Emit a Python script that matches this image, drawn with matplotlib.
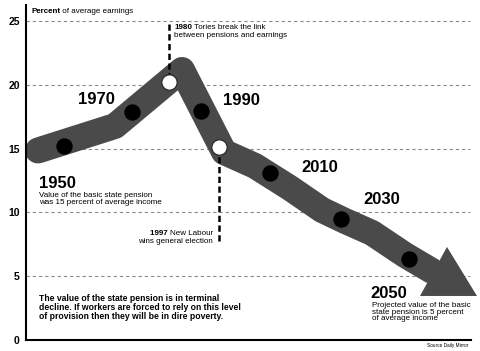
import matplotlib.pyplot as plt

plt.rcParams["font.family"] = ["Liberation Sans", "DejaVu Sans"]

# centre line of the thick trend arrow (x in chart position units, y in % of earnings)
band_x = [12, 89, 156, 198, 229, 264, 296, 319, 346, 379, 406]
band_y = [14.85, 16.77, 21.16, 14.73, 13.64, 11.91, 10.19, 9.33, 8.39, 6.66, 5.41]
head_x = [421, 394, 451]
head_y = [7.29, 3.45, 3.45]

# black markers on the trend, white ones mark the 1980 and 1997 events
dot_x = [38, 106, 175, 244, 315, 383]
dot_y = [15.2, 17.87, 17.95, 13.1, 9.5, 6.35]
event_x = [143, 193]
event_y = [20.2, 15.1]

yticks = [0, 5, 10, 15, 20, 25]

year_labels = ["1950", "1970", "1990", "2010", "2030", "2050"]
year_lx = [13, 52, 197, 275, 337, 344]
year_ly = [11.91, 18.5, 18.42, 13.17, 10.66, 3.29]

BAND = "#4a4a4a"

fig = plt.figure(figsize=(4.8, 3.51), dpi=100)
ax = fig.add_axes([26 / 480, 11 / 351, 445 / 480, 335 / 351])
ax.set_xlim(0, 445)
ax.set_ylim(0, 26.25)

for s in ("top", "right"):
    ax.spines[s].set_visible(False)
ax.spines["left"].set_linewidth(1.5)
ax.spines["bottom"].set_linewidth(1.5)
ax.set_xticks([])
ax.set_yticks(yticks)
ax.set_yticklabels([str(v) for v in yticks], fontsize=7.5, fontweight="bold")
ax.tick_params(axis="y", length=0, pad=4.5)

ax.hlines(yticks[1:], 0, 444, colors="#8a8a8a", linewidth=0.8,
          linestyles=[(0, (3, 2.6))], zorder=1)

ax.plot(band_x, band_y, color=BAND, linewidth=18.7, solid_joinstyle="round",
        solid_capstyle="round", zorder=2)
ax.fill(head_x, head_y, color=BAND, linewidth=0, clip_on=False, zorder=2)

# event markers with dashed leaders
ax.plot([event_x[0], event_x[0]], [24.76, event_y[0]], color="black", linewidth=1.8,
        linestyle=(0, (2.5, 1.4)), zorder=3)
ax.plot([event_x[1], event_x[1]], [event_y[1], 7.6], color="black", linewidth=1.8,
        linestyle=(0, (2.5, 1.4)), zorder=3)

ax.plot(dot_x, dot_y, "o", color="black", markersize=10.8, zorder=4)
ax.plot(event_x, event_y, "o", markerfacecolor="white", markeredgecolor="#222222",
        markeredgewidth=0.8, markersize=11, zorder=4)

for lab, x, y in zip(year_labels, year_lx, year_ly):
    ax.text(x, y, lab, fontsize=12, fontweight="bold", va="baseline", ha="left")

small = 5.8
t = ax.text(5, 25.63, "Percent", fontsize=small, fontweight="bold", va="baseline")
ax.annotate(" of average earnings", xy=(1, 0), xycoords=t, fontsize=small, va="bottom")

t = ax.text(148, 24.37, "1980", fontsize=small, fontweight="bold", va="baseline")
ax.annotate(" Tories break the link", xy=(1, 0), xycoords=t, fontsize=small, va="bottom")
ax.text(148, 23.71, "between pensions and earnings", fontsize=small, va="baseline")

t = ax.text(187, 8.23, "New Labour", fontsize=small, va="baseline", ha="right")
ax.annotate("1997 ", xy=(0, 0), xycoords=t, fontsize=small, fontweight="bold",
            va="bottom", ha="right")
ax.text(187, 7.63, "wins general election", fontsize=small, va="baseline", ha="right")

ax.text(13, 11.6, "Value of the basic state pension\nwas 15 percent of average income",
        fontsize=small, va="top", linespacing=0.95)
ax.text(346, 2.98, "Projected value of the basic\nstate pension is 5 percent\nof average income",
        fontsize=small, va="top", linespacing=0.95, clip_on=False)
ax.text(13, 3.62, "The value of the state pension is in terminal\n"
        "decline. If workers are forced to rely on this level\n"
        "of provision then they will be in dire poverty.",
        fontsize=6.2, fontweight="bold", va="top", linespacing=1.0)

ax.text(442, -0.47, "Source Daily Mirror", fontsize=3.4, ha="right", va="center",
        clip_on=False)

fig.savefig("out.png", dpi=100)
